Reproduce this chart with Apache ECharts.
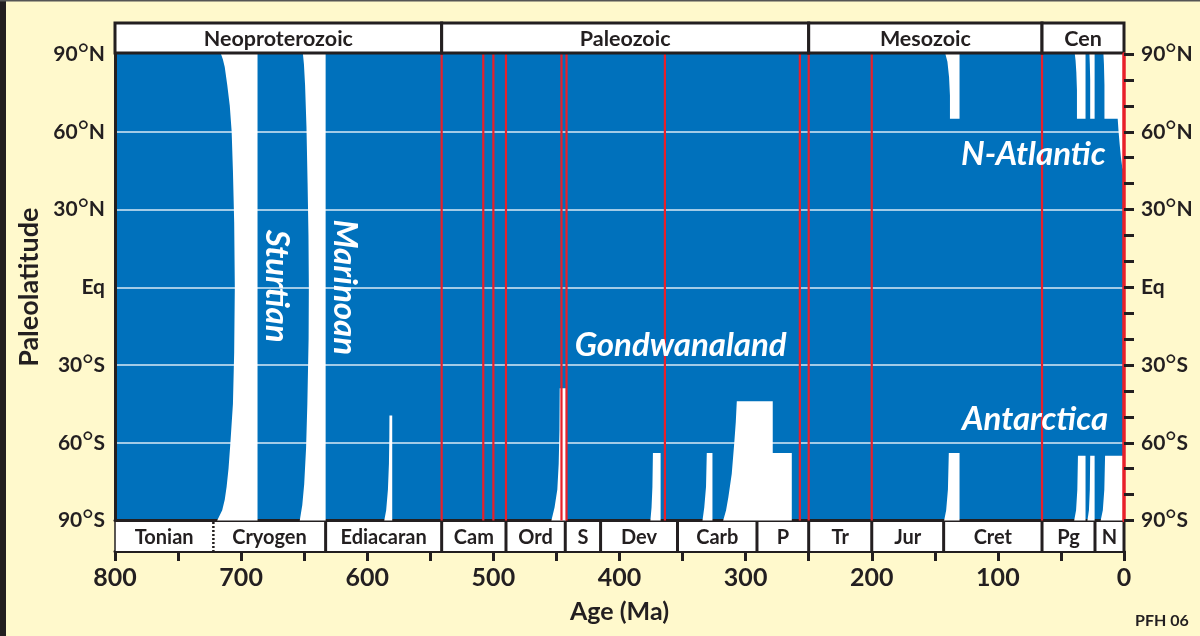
<!DOCTYPE html>
<html><head><meta charset="utf-8">
<script src="https://cdn.jsdelivr.net/npm/echarts@6/dist/echarts.min.js"></script>
<style>html,body{margin:0;padding:0;background:#FFF9CC;}#c{width:1200px;height:636px;}</style>
</head><body><div id="c"></div>
<script>
// ---------- data ----------
const eraNames = ['Neoproterozoic', 'Paleozoic', 'Mesozoic', 'Cen'];
const eraStart = [800, 541, 250, 65];
const eraEnd = [541, 250, 65, 0];

const periodNames = ['Tonian', 'Cryogen', 'Ediacaran', 'Cam', 'Ord', 'S', 'Dev', 'Carb', 'P', 'Tr', 'Jur', 'Cret', 'Pg', 'N'];
const periodStart = [800, 722, 633, 541, 490, 443, 415, 354, 291, 250, 200, 143, 65, 23];
const periodEnd = [722, 633, 541, 490, 443, 415, 354, 291, 250, 200, 143, 65, 23, 0];

const extinctionAges = [541, 508, 500, 490, 446, 442, 364, 257, 250, 200, 65];

// glaciation outlines, [age Ma, paleolatitude]
const sturtian = [[716,90],[714.5,88],[713,85],[711,78],[709,70],[707.5,60],[706.5,45],[705.5,25],[705,0],[705.5,-25],[706.5,-45],[708.5,-60],[710,-70],[711.5,-77],[713,-82],[715,-86],[719,-90],[687,-90],[687,90]];
const marinoan = [[651,90],[650.2,86],[649.3,78],[648.2,62],[647.3,40],[646.6,20],[646.3,0],[646.5,-20],[647.5,-45],[648.5,-62],[650,-76],[651.5,-84],[653.5,-90],[633,-90],[633,90]];
const gaskiers = [[582.4,-49.5],[580.2,-49.5],[580.2,-90],[586.5,-90],[585,-86],[583.6,-78],[582.8,-68],[582.5,-58]];
const hirnantian = [[447.4,-39],[442.5,-39],[442.5,-90],[454,-90],[451.5,-85],[449.3,-78],[448.2,-68],[447.6,-55]];
const lateDevonian = [[373.5,-64],[367.4,-64],[367.4,-90],[375.5,-90],[374.6,-85],[373.9,-77]];
const earlyCarboniferous = [[330.8,-64],[326.3,-64],[326.3,-90],[334.2,-90],[332.8,-85],[331.4,-77]];
const permoCarboniferous = [[307,-44],[278.5,-44],[278.5,-64],[263.4,-64],[263.4,-90],[317.8,-90],[315.5,-86],[313.7,-81],[311,-72],[309,-60],[307.8,-52]];
const earlyCretaceousS = [[138.9,-64],[130.4,-64],[130.4,-90],[142.6,-90],[141,-86],[139.6,-78]];
const earlyCretaceousN = [[141.6,90],[130.4,90],[130.4,65],[138,65],[138,74],[138.7,81],[140,87]];
const eoceneN = [[39,90],[30.5,90],[30.5,65],[37.3,65],[37.3,76],[37.8,83],[38.4,87.5]];
const oligoceneN = [[27.4,90],[23.3,90],[23.3,65],[26.8,65],[26.8,80],[27.1,86]];
const neogeneN = [[16.3,90],[0,90],[0,45],[1.3,46],[2.4,50],[3.4,55],[4.3,60],[5,65],[15.5,65],[15.5,78],[15.9,86]];
const eoceneS = [[36.5,-65],[30.5,-65],[30.5,-90],[39.5,-90],[38,-86],[37,-78]];
const oligoceneS = [[26.8,-65],[23.3,-65],[23.3,-90],[29,-90],[27.8,-86],[27.1,-78]];
const neogeneS = [[15,-65],[0,-65],[0,-90],[18.5,-90],[16.8,-86],[15.6,-78]];

const glaciations = [sturtian, marinoan, gaskiers, hirnantian, lateDevonian, earlyCarboniferous,
  permoCarboniferous, earlyCretaceousS, earlyCretaceousN, eoceneN, oligoceneN, neogeneN,
  eoceneS, oligoceneS, neogeneS];

const annotationText = ['Sturtian', 'Marinoan', 'Gondwanaland', 'N-Atlantic', 'Antarctica'];
const annotationAt = [[672, 0.4], [618, 0], [351.5, -22.4], [71.9, 51.4], [70.5, -51]];
const annotationVertical = [true, true, false, false, false];

// ---------- styling ----------
const FONT = 'Lato, "Open Sans", "DejaVu Sans", sans-serif';
const INK = '#231f20';
const BLUE = '#0071BC';
const RED = '#E8202A';

function latLabel(v) {
  if (v === 0) return 'Eq';
  return Math.abs(v) + '{d|°}' + (v > 0 ? 'N' : 'S');
}
const latRich = { d: { fontFamily: FONT, fontSize: 27, fontWeight: 'normal', color: INK, lineHeight: 21, padding: [0, 0, 0, 0] } };

const chart = echarts.init(document.getElementById('c'));
const option = {
  backgroundColor: '#FFF9CC',
  animation: false,
  grid: [
    { left: 115, top: 54, width: 1009, height: 466.5, show: true, backgroundColor: BLUE, borderWidth: 0 },
    { left: 115, top: 23, width: 1009, height: 30 },
    { left: 115, top: 522, width: 1009, height: 29 }
  ],
  xAxis: [
    { gridIndex: 0, type: 'value', min: 0, max: 800, inverse: true,
      axisLine: { onZero: false, lineStyle: { color: INK, width: 3 } },
      axisTick: { show: false }, axisLabel: { show: false }, splitLine: { show: false } },
    { gridIndex: 1, type: 'value', min: 0, max: 800, inverse: true, show: false },
    { gridIndex: 2, type: 'value', min: 0, max: 800, interval: 50, inverse: true,
      axisLine: { onZero: false, lineStyle: { color: INK, width: 3 } },
      axisTick: { length: 10, lineStyle: { color: INK, width: 3 } },
      axisLabel: { margin: 14, formatter: v => (v % 100 === 0 ? String(v) : ''),
        fontFamily: FONT, fontWeight: 'bold', fontSize: 25, color: INK },
      splitLine: { show: false },
      name: 'Age (Ma)', nameLocation: 'middle', nameGap: 48,
      nameTextStyle: { fontFamily: FONT, fontWeight: 'bold', fontSize: 25, color: INK } }
  ],
  yAxis: [
    { gridIndex: 0, type: 'value', min: -90, max: 90, interval: 30, position: 'left',
      axisLine: { onZero: false, lineStyle: { color: INK, width: 3 } },
      axisTick: { show: false },
      axisLabel: { margin: 10, formatter: latLabel, rich: latRich, fontFamily: FONT, fontWeight: 'bold', fontSize: 21, color: INK },
      splitLine: { show: true, showMinLine: false, showMaxLine: false,
        lineStyle: { color: 'rgba(255,255,255,0.85)', width: 1.5 } },
      name: 'Paleolatitude', nameLocation: 'middle', nameRotate: 90, nameGap: 64,
      nameTextStyle: { fontFamily: FONT, fontWeight: 'bold', fontSize: 27, color: INK } },
    { gridIndex: 0, type: 'value', min: -90, max: 90, interval: 10, position: 'right', z: 10,
      axisLine: { onZero: false, lineStyle: { color: RED, width: 3.5 } },
      axisTick: { length: 10, lineStyle: { color: INK, width: 3 } },
      axisLabel: { margin: 17, formatter: v => (v % 30 === 0 ? latLabel(v) : ''), rich: latRich,
        fontFamily: FONT, fontWeight: 'bold', fontSize: 21, color: INK },
      splitLine: { show: false } },
    { gridIndex: 1, type: 'value', min: 0, max: 1, show: false },
    { gridIndex: 2, type: 'value', min: 0, max: 1, show: false }
  ],
  graphic: [
    { type: 'rect', left: 0, top: 0, shape: { width: 6, height: 636 }, style: { fill: INK } },
    { type: 'rect', left: 0, top: 0, shape: { width: 1200, height: 1.5 }, style: { fill: '#555' } },
    { type: 'text', left: 1135, top: 613, style: { text: 'PFH 06', font: 'bold 16px ' + FONT, fill: INK } }
  ],
  series: [
    { type: 'custom', name: 'glaciations', xAxisIndex: 0, yAxisIndex: 0, z: 2, silent: true,
      data: glaciations.map(s => s[0]),
      renderItem: (params, api) => ({
        type: 'polygon',
        shape: { points: glaciations[params.dataIndex].map(p => api.coord(p)) },
        style: { fill: '#ffffff' }
      }) },
    { type: 'custom', name: 'extinctions', xAxisIndex: 0, yAxisIndex: 0, z: 3, silent: true,
      data: extinctionAges.map(a => [a, 0]),
      renderItem: (params, api) => {
        const a = api.value(0);
        const p0 = api.coord([a, 90]);
        const p1 = api.coord([a, -90]);
        return { type: 'line', shape: { x1: p0[0], y1: p0[1], x2: p1[0], y2: p1[1] },
          style: { stroke: RED, lineWidth: 2.2 } };
      } },
    { type: 'custom', name: 'labels', xAxisIndex: 0, yAxisIndex: 0, z: 5, silent: true,
      data: annotationAt,
      renderItem: (params, api) => {
        const i = params.dataIndex;
        const p = api.coord([api.value(0), api.value(1)]);
        return { type: 'text', x: p[0], y: p[1], rotation: annotationVertical[i] ? -Math.PI / 2 : 0,
          style: { text: annotationText[i], fill: '#ffffff', font: 'italic bold 33px ' + FONT,
            textAlign: 'center', textVerticalAlign: 'middle', align: 'center', verticalAlign: 'middle' } };
      } },
    { type: 'custom', name: 'eras', xAxisIndex: 1, yAxisIndex: 2, z: 4, silent: true,
      data: eraNames.map((n, i) => [eraStart[i], eraEnd[i]]),
      renderItem: (params, api) => {
        const i = params.dataIndex;
        const p0 = api.coord([api.value(0), 1]);
        const p1 = api.coord([api.value(1), 0]);
        return { type: 'group', children: [
          { type: 'rect', shape: { x: p0[0], y: p0[1], width: p1[0] - p0[0], height: p1[1] - p0[1] },
            style: { fill: '#ffffff', stroke: INK, lineWidth: 3 } },
          { type: 'text', x: (p0[0] + p1[0]) / 2, y: (p0[1] + p1[1]) / 2 + 1,
            style: { text: eraNames[i], fill: INK, font: 'bold 21.5px ' + FONT,
              textAlign: 'center', textVerticalAlign: 'middle', align: 'center', verticalAlign: 'middle' } }
        ] };
      } },
    { type: 'custom', name: 'periods', xAxisIndex: 2, yAxisIndex: 3, z: 4, silent: true,
      data: periodNames.map((n, i) => [periodStart[i], periodEnd[i]]),
      renderItem: (params, api) => {
        const i = params.dataIndex;
        const p0 = api.coord([api.value(0), 1]);
        const p1 = api.coord([api.value(1), 0]);
        const children = [
          { type: 'rect', shape: { x: p0[0], y: p0[1], width: p1[0] - p0[0], height: p1[1] - p0[1] },
            style: { fill: '#ffffff' } },
          { type: 'line', shape: { x1: p0[0], y1: p0[1], x2: p0[0], y2: p1[1] },
            style: { stroke: INK, lineWidth: i === 0 ? 1.5 : (periodNames[i] === 'Cryogen' ? 2.5 : 3),
              lineDash: periodNames[i] === 'Cryogen' ? [2, 2] : null } },
          { type: 'text', x: (p0[0] + p1[0]) / 2, y: (p0[1] + p1[1]) / 2 + 1,
            style: { text: periodNames[i], fill: INK, font: 'bold 20px ' + FONT,
              textAlign: 'center', textVerticalAlign: 'middle', align: 'center', verticalAlign: 'middle' } }
        ];
        if (i === periodNames.length - 1) {
          children.push({ type: 'line', shape: { x1: p1[0], y1: p0[1], x2: p1[0], y2: p1[1] },
            style: { stroke: INK, lineWidth: 3 } });
        }
        return { type: 'group', children };
      } }
  ]
};
chart.setOption(option);
</script>
</body></html>
